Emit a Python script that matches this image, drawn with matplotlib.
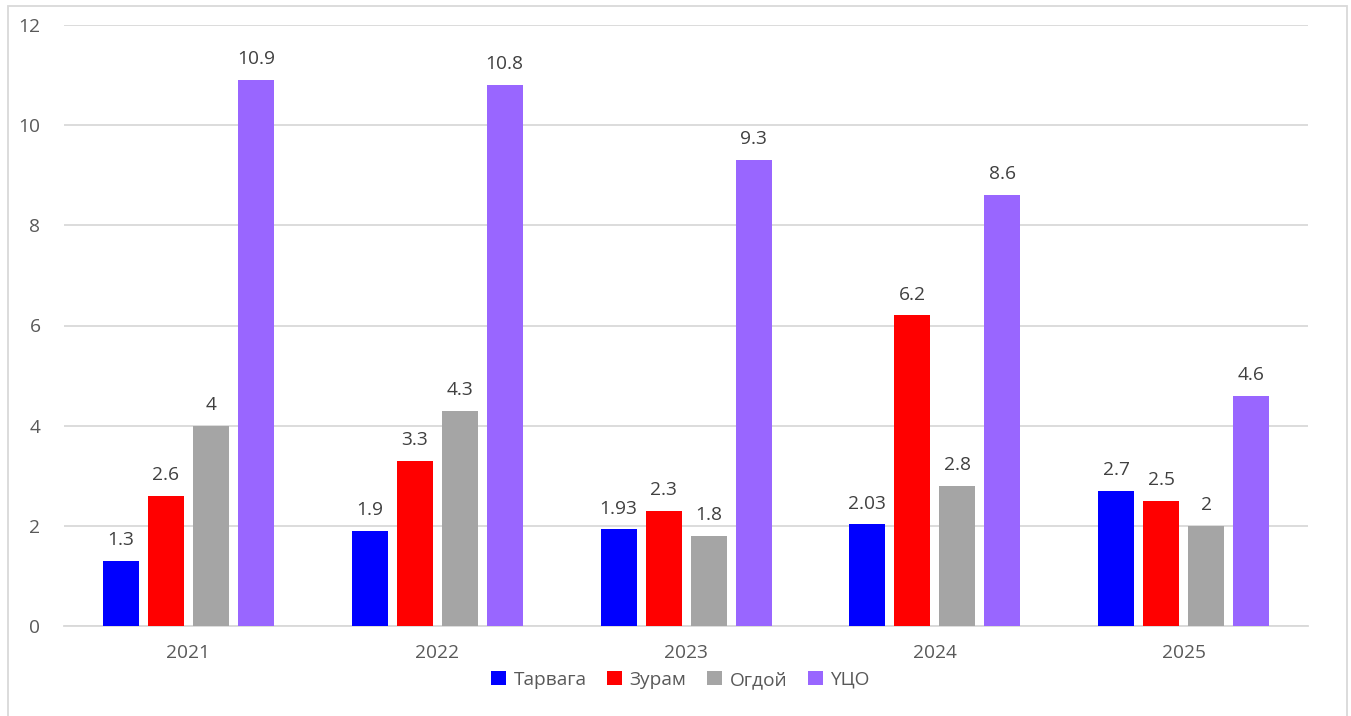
import matplotlib
matplotlib.use("Agg")
import matplotlib.pyplot as plt
import numpy as np
from matplotlib.patches import Rectangle

plt.rcParams['font.family'] = ['Open Sans', 'DejaVu Sans']

years = ["2021", "2022", "2023", "2024", "2025"]
series_names = ["Тарвага", "Зурам", "Огдой", "ҮЦО"]
tarvaga = [1.3, 1.9, 1.93, 2.03, 2.7]
zuram = [2.6, 3.3, 2.3, 6.2, 2.5]
ogdoi = [4, 4.3, 1.8, 2.8, 2]
uco = [10.9, 10.8, 9.3, 8.6, 4.6]
labels_tarvaga = ["1.3", "1.9", "1.93", "2.03", "2.7"]
labels_zuram = ["2.6", "3.3", "2.3", "6.2", "2.5"]
labels_ogdoi = ["4", "4.3", "1.8", "2.8", "2"]
labels_uco = ["10.9", "10.8", "9.3", "8.6", "4.6"]
colors = ["#0000FF", "#FF0000", "#A5A5A5", "#9966FF"]

data = [tarvaga, zuram, ogdoi, uco]
lbls = [labels_tarvaga, labels_zuram, labels_ogdoi, labels_uco]

fig = plt.figure(figsize=(13.51, 7.16), dpi=100)
ax = fig.add_axes([64/1351, 1-626/716, (1308-64)/1351, (626-25)/716])

x = np.arange(len(years))
slot = 45/248.8
width = 36/248.8
for i, (vals, c, name, lb) in enumerate(zip(data, colors, series_names, lbls)):
    pos = x + (i - 1.5) * slot
    bars = ax.bar(pos, vals, width=width, color=c, label=name, zorder=3)
    for b, t in zip(bars, lb):
        ax.annotate(t, (b.get_x() + b.get_width()/2, b.get_height()),
                    xytext=(0, 8.5), textcoords="offset points",
                    ha="center", va="bottom", fontsize=13.8, color="#404040")

ax.set_xlim(-0.5, 4.5)
ax.set_ylim(0, 12)
ax.set_yticks(np.arange(0, 13, 2))
ax.set_xticks(x)
ax.set_xticklabels(years)
ax.grid(axis="y", color="#D9D9D9", linewidth=1.3, zorder=0)
for s in ["top", "right", "left"]:
    ax.spines[s].set_visible(False)
ax.spines["bottom"].set_color("#D9D9D9")
ax.spines["bottom"].set_linewidth(1.3)
ax.tick_params(axis="both", length=0, labelsize=13.8, colors="#595959")
ax.tick_params(axis="y", pad=17)
ax.tick_params(axis="x", pad=13)

leg = fig.legend(loc="center", bbox_to_anchor=(0.5 + 5/1351, 1-680/716), ncol=4, frameon=False,
                 fontsize=13.8, handlelength=0.75, handleheight=0.75, handletextpad=0.4,
                 columnspacing=1.1)
for t in leg.get_texts():
    t.set_color("#595959")

fig.patches.append(Rectangle((8/1351, -0.01), (1347-8)/1351, 1-6/716 + 0.01,
                             transform=fig.transFigure, fill=False,
                             edgecolor="#D9D9D9", linewidth=1.3))

fig.savefig("out.png", dpi=100)
